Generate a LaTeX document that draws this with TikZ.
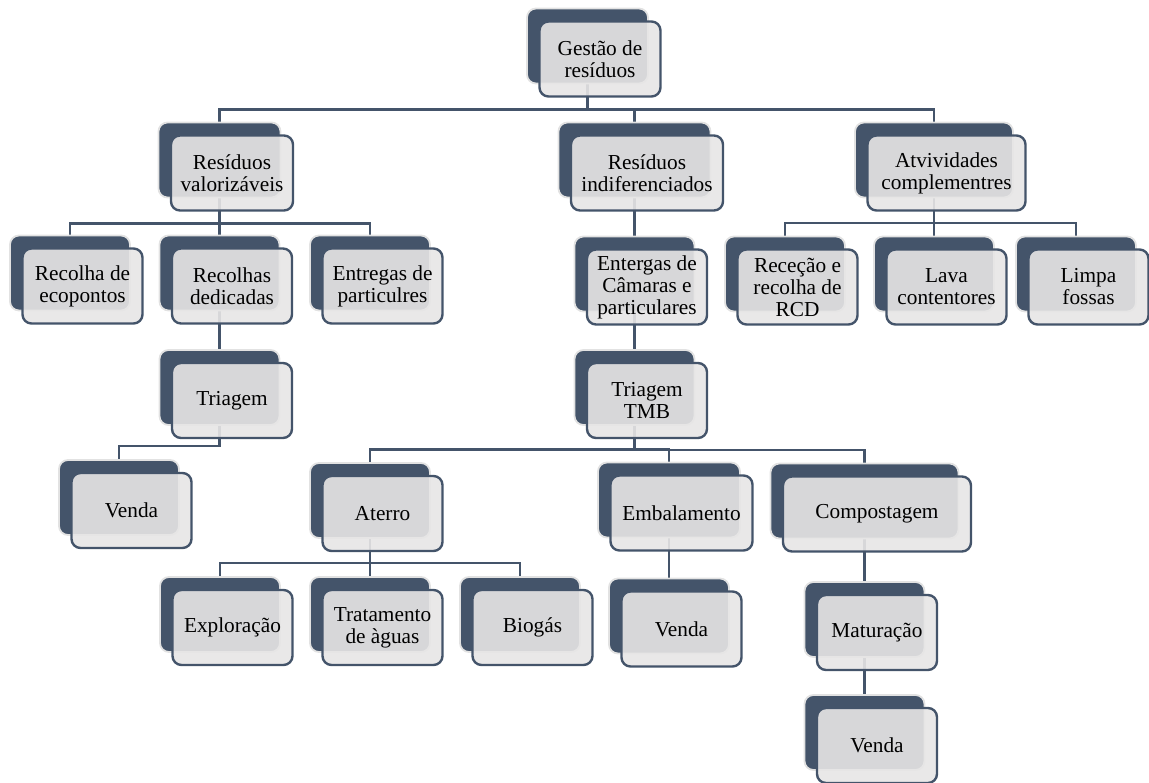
\documentclass[tikz,border=0pt]{standalone}
\usepackage{fontspec}
\setmainfont{Liberation Serif}
\definecolor{slate}{HTML}{44546A}
\definecolor{paleg}{HTML}{E7E6E6}
\definecolor{rim}{HTML}{E2E2E2}
\pgfdeclarelayer{background}
\pgfsetlayers{background,main}
\tikzset{
  backbox/.style={rectangle, rounded corners=9pt, fill=slate, draw=rim, line width=1.8pt,
    minimum height=75pt, inner sep=0pt},
  frontbox/.style={rectangle, rounded corners=9pt, fill=paleg, fill opacity=0.9, text opacity=1,
    draw=slate, draw opacity=1, line width=2.4pt, minimum height=75pt, inner sep=0pt, align=center,
    font=\fontsize{21.3}{22}\selectfont},
  conn/.style={draw=slate, line width=2.6pt}
}
\newcommand\smbox[5]{%
  \node[backbox, minimum width=#4] (#1) at (#2,#3) {};
  \node[frontbox, minimum width=#4] (#1-f) at ([shift={(12.5,13)}]#1.center) {#5};
}
\begin{document}
\begin{tikzpicture}[x=1pt,y=-1pt]
\useasboundingbox (0,0) rectangle (1149,783);
% level 0
\smbox{G}{587.5}{46}{121}{Gestão de\\resíduos}
% level 1
\smbox{RV}{219.5}{160}{122}{Resíduos\\valorizáveis}
\smbox{RI}{634.5}{160}{152}{Resíduos\\indiferenciados}
\smbox{AC}{934}{160}{158}{Atvividades\\complementres}
% level 2
\smbox{RE}{70}{273}{120}{Recolha de\\ecopontos}
\smbox{RD}{219.5}{273}{120}{Recolhas\\dedicadas}
\smbox{EP}{370}{273}{120}{Entregas de\\particulres}
\smbox{EC}{634.5}{274}{120}{Entergas de\\Câmaras e\\particulares}
\smbox{RR}{785}{274}{120}{Receção e\\recolha de\\RCD}
\smbox{LC}{934}{274}{120}{Lava\\contentores}
\smbox{LF}{1076}{274}{120}{Limpa\\fossas}
% level 3
\smbox{TR}{219.5}{387.5}{120}{Triagem}
\smbox{TMB}{634.5}{387.5}{120}{Triagem\\TMB}
% level 4
\smbox{V1}{119}{497.5}{120}{Venda}
\smbox{AT}{370}{500.5}{120}{Aterro}
\smbox{EM}{669}{500}{142}{Embalamento}
\smbox{CP}{864.5}{501}{188}{Compostagem}
% level 5
\smbox{EX}{220}{614.5}{120}{Exploração}
\smbox{TA}{370}{614.5}{120}{Tratamento\\de àguas}
\smbox{BG}{520}{614.5}{120}{Biogás}
\smbox{V2}{669}{616}{120}{Venda}
\smbox{MA}{864.5}{619.5}{120}{Maturação}
\smbox{V3}{864.5}{732.5}{120}{Venda}
% connectors
\begin{pgfonlayer}{background}
\foreach \c in {RV,RI,AC} \draw[conn] (G.south) |- ([yshift=12pt]\c.north) -- (\c.north);
\foreach \c in {RE,RD,EP} \draw[conn] (RV.south) |- ([yshift=11pt]\c.north) -- (\c.north);
\foreach \c in {RR,LC,LF} \draw[conn] (AC.south) |- ([yshift=12.5pt]\c.north) -- (\c.north);
\draw[conn] (RI.south) -- (EC.north);
\draw[conn] (RD.south) -- (TR.north);
\draw[conn] (EC.south) -- (TMB.north);
\draw[conn] (TR.south) |- ([yshift=13pt]V1.north) -- (V1.north);
\foreach \c in {AT,EM,CP} \draw[conn] (TMB.south) |- ([yshift=12.5pt]\c.north) -- (\c.north);
\foreach \c in {EX,TA,BG} \draw[conn] (AT.south) |- ([yshift=13pt]\c.north) -- (\c.north);
\draw[conn] (EM.south) -- (V2.north);
\draw[conn] (CP.south) -- (MA.north);
\draw[conn] (MA.south) -- (V3.north);
\end{pgfonlayer}
\end{tikzpicture}
\end{document}
